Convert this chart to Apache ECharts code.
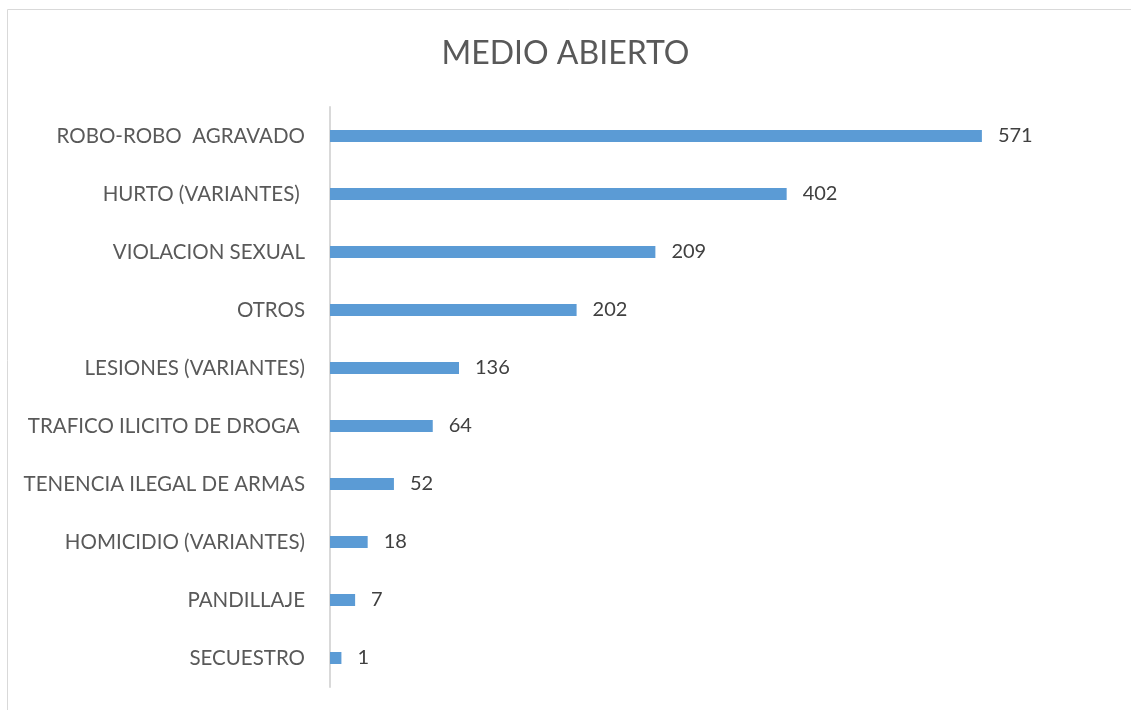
<!DOCTYPE html>
<html>
<head>
<meta charset="utf-8">
<script src="https://cdn.jsdelivr.net/npm/echarts@6/dist/echarts.min.js"></script>
<style>
  html, body { margin: 0; padding: 0; background: #fff; }
  #chart { width: 1131px; height: 710px; }
</style>
</head>
<body>
<div id="chart"></div>
<script>
// categorias (de arriba hacia abajo)
const categorias = [
  'ROBO-ROBO  AGRAVADO',
  'HURTO (VARIANTES) ',
  'VIOLACION SEXUAL',
  'OTROS',
  'LESIONES (VARIANTES)',
  'TRAFICO ILICITO DE DROGA ',
  'TENENCIA ILEGAL DE ARMAS',
  'HOMICIDIO (VARIANTES)',
  'PANDILLAJE',
  'SECUESTRO'
];
// numeros que muestran las etiquetas
const casos = [571, 402, 209, 202, 136, 64, 52, 18, 7, 1];
// largo de las barras tal como estan dibujadas en el grafico original
// (no son proporcionales a las etiquetas, se leen de la imagen)
const barras = [571, 400, 285, 216, 113, 90, 56, 33, 22, 10];

var myChart = echarts.init(document.getElementById('chart'));
myChart.setOption({
  animation: false,
  textStyle: { fontFamily: 'Lato' },
  graphic: [{
    type: 'rect',
    shape: { x: 7.5, y: 9.5, width: 1130, height: 710 },
    style: { fill: 'none', stroke: '#d9d9d9', lineWidth: 1 }
  }],
  title: {
    text: 'MEDIO ABIERTO',
    left: 'center',
    top: 33,
    textStyle: { fontFamily: 'Lato', fontSize: 32, fontWeight: 'normal', color: '#595959' }
  },
  grid: { left: 330, right: 116, top: 107, bottom: 23 },
  xAxis: {
    type: 'value',
    min: 0,
    max: 600,
    show: false,
    splitLine: { show: false }
  },
  yAxis: {
    type: 'category',
    inverse: true,
    data: categorias,
    axisLine: { lineStyle: { color: '#d9d9d9', width: 2 } },
    axisTick: { show: false },
    axisLabel: { margin: 25, fontSize: 20.5, color: '#595959', fontFamily: 'Lato' }
  },
  series: [{
    type: 'bar',
    data: barras,
    barWidth: 12,
    itemStyle: { color: '#5b9bd5' },
    label: {
      show: true,
      position: 'right',
      distance: 16,
      fontSize: 20,
      color: '#404040',
      fontFamily: 'Lato',
      formatter: p => casos[p.dataIndex]
    }
  }]
});
</script>
</body>
</html>
